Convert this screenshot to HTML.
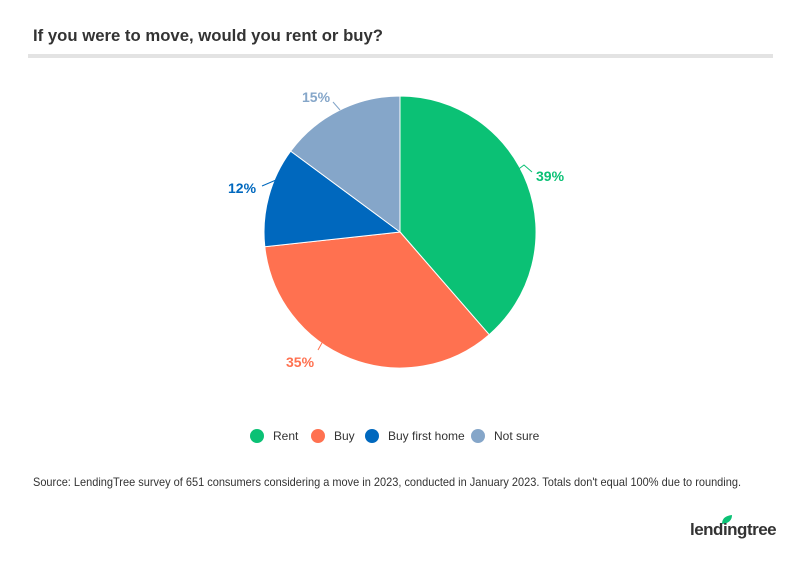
<!DOCTYPE html>
<html><head><meta charset="utf-8"><style>
body{margin:0;width:800px;height:557px;background:#fff;font-family:"Liberation Sans",sans-serif;overflow:hidden}
</style></head><body>
<svg width="800" height="557" xmlns="http://www.w3.org/2000/svg" font-family="Liberation Sans, sans-serif">
<text x="33" y="41" font-size="17" font-weight="bold" fill="#333" textLength="350" lengthAdjust="spacingAndGlyphs">If you were to move, would you rent or buy?</text>
<rect x="28" y="54" width="745" height="4" fill="#e3e3e3"/>
<g stroke="#fff" stroke-width="1">
<path d="M400,232 L400,96 A136,136 0 0 1 489.2,334.7 Z" fill="#0bc175"/>
<path d="M400,232 L489.2,334.7 A136,136 0 0 1 264.8,246.7 Z" fill="#ff7150"/>
<path d="M400,232 L264.8,246.7 A136,136 0 0 1 290.7,151.1 Z" fill="#0068be"/>
<path d="M400,232 L290.7,151.1 A136,136 0 0 1 400,96 Z" fill="#85a6c9"/>
</g>
<g fill="none" stroke-width="1">
<path d="M516,171 L524,165 L532,172" stroke="#0bc175"/>
<path d="M318,350 L323,341 L346,352" stroke="#ff7150"/>
<path d="M262,186 L276,180" stroke="#0068be"/>
<path d="M333,102 L340,110" stroke="#85a6c9"/>
</g>
<g font-size="14" font-weight="bold">
<text x="536" y="181" fill="#0bc175">39%</text>
<text x="286" y="367" fill="#ff7150">35%</text>
<text x="228" y="193" fill="#0068be">12%</text>
<text x="302" y="102" fill="#85a6c9">15%</text>
</g>
<g font-size="12" fill="#333">
<circle cx="257" cy="436" r="7" fill="#0bc175"/><text x="273" y="440">Rent</text>
<circle cx="318" cy="436" r="7" fill="#ff7150"/><text x="334" y="440">Buy</text>
<circle cx="372" cy="436" r="7" fill="#0068be"/><text x="388" y="440">Buy first home</text>
<circle cx="478" cy="436" r="7" fill="#85a6c9"/><text x="494" y="440">Not sure</text>
</g>
<text x="33" y="486" font-size="12" fill="#333" textLength="708" lengthAdjust="spacingAndGlyphs">Source: LendingTree survey of 651 consumers considering a move in 2023, conducted in January 2023. Totals don't equal 100% due to rounding.</text>
<path d="M722,524 Q722,516 732,515 Q732,523 722,524 Z" fill="#0bc175"/>
<text x="690" y="535" font-size="17" font-weight="bold" fill="#333" letter-spacing="-0.5">lendingtree</text>
</svg>
</body></html>
